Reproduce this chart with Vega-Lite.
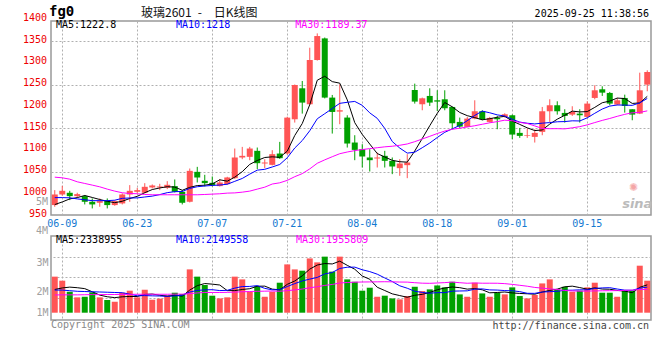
{
"$schema": "https://vega.github.io/schema/vega-lite/v6.json",
"padding": {"left": 22, "top": 4, "right": 8, "bottom": 4},
"background": "white",
"bounds": "flush",
"spacing": 21,
"config": {
  "view": {"stroke": "#999999", "strokeWidth": 1.5},
  "axis": {"labelFont": "DejaVu Sans Mono", "labelFontSize": 10, "ticks": false, "domain": false, "gridColor": "#b0b0b0", "gridDash": [2, 2], "gridWidth": 1, "labelBound": false, "labelFlush": false},
  "text": {"font": "DejaVu Sans Mono", "fontSize": 10}
},
"datasets": {
"yt": [{"t":950},{"t":1000},{"t":1050},{"t":1100},{"t":1150},{"t":1200},{"t":1250},{"t":1300},{"t":1350},{"t":1400}],
"k": [
{"d":"06-06","o":972.8,"h":1007.2,"l":968.9,"c":997.2,"v":3030000,"m5":974,"m10":990,"m30":1037,"vm5":1950000,"vm10":1900000,"vm30":1490000},
{"d":"06-09","o":997.2,"h":1017.1,"l":994.2,"c":1005.6,"v":2690000,"m5":980,"m10":990,"m30":1035.5,"vm5":2080000,"vm10":1900000,"vm30":1500000},
{"d":"06-10","o":1001.1,"h":1005.6,"l":984.2,"c":993.4,"v":1760000,"m5":987,"m10":989.5,"m30":1032.4,"vm5":2150000,"vm10":1850000,"vm30":1500000},
{"d":"06-11","o":993.4,"h":1001.1,"l":990.3,"c":998.0,"v":1290000,"m5":990,"m10":987,"m30":1026.3,"vm5":2100000,"vm10":1800000,"vm30":1500000},
{"d":"06-12","o":993.4,"h":995.7,"l":974.3,"c":980.4,"v":1340000,"m5":994.9,"m10":985,"m30":1022.5,"vm5":2022000,"vm10":1780000,"vm30":1510000},
{"d":"06-13","o":980.4,"h":988.1,"l":965.1,"c":974.3,"v":1710000,"m5":990.3,"m10":983,"m30":1018.7,"vm5":1758000,"vm10":1760000,"vm30":1520000},
{"d":"06-16","o":978.1,"h":988.1,"l":968.9,"c":981.9,"v":1290000,"m5":985.6,"m10":983,"m30":1014.8,"vm5":1478000,"vm10":1740000,"vm30":1520000},
{"d":"06-17","o":982.7,"h":988.1,"l":965.1,"c":972.8,"v":1070000,"m5":981.5,"m10":983,"m30":1009.5,"vm5":1340000,"vm10":1720000,"vm30":1530000},
{"d":"06-18","o":972.8,"h":983.5,"l":971.2,"c":981.9,"v":920000,"m5":978.3,"m10":984,"m30":1004.9,"vm5":1266000,"vm10":1700000,"vm30":1530000},
{"d":"06-19","o":976.6,"h":999.5,"l":974.3,"c":997.2,"v":1680000,"m5":981.6,"m10":988.3,"m30":1001.1,"vm5":1334000,"vm10":1678000,"vm30":1540000},
{"d":"06-20","o":997.2,"h":1018.7,"l":980.4,"c":1005.6,"v":1850000,"m5":987.9,"m10":989.1,"m30":999.5,"vm5":1362000,"vm10":1560000,"vm30":1540000},
{"d":"06-23","o":1003.4,"h":1012.5,"l":999.5,"c":1007.2,"v":1290000,"m5":992.9,"m10":989.3,"m30":998.8,"vm5":1362000,"vm10":1420000,"vm30":1550000},
{"d":"06-24","o":1001.1,"h":1023.2,"l":999.5,"c":1014.8,"v":1930000,"m5":1001.3,"m10":991.4,"m30":997.2,"vm5":1534000,"vm10":1437000,"vm30":1550000},
{"d":"06-25","o":1013.3,"h":1020.2,"l":1011.0,"c":1017.9,"v":1090000,"m5":1008.5,"m10":993.4,"m30":996.5,"vm5":1568000,"vm10":1417000,"vm30":1550000},
{"d":"06-26","o":1013.3,"h":1021.7,"l":1007.2,"c":1015.6,"v":1180000,"m5":1012.2,"m10":996.9,"m30":996.5,"vm5":1468000,"vm10":1401000,"vm30":1550000},
{"d":"06-27","o":1012.5,"h":1027.8,"l":1009.5,"c":1019.4,"v":1450000,"m5":1015.0,"m10":1001.4,"m30":996.5,"vm5":1388000,"vm10":1375000,"vm30":1550000},
{"d":"06-30","o":1016.4,"h":1031.7,"l":1001.8,"c":1003.4,"v":1680000,"m5":1014.2,"m10":1003.6,"m30":996.5,"vm5":1466000,"vm10":1414000,"vm30":1560000},
{"d":"07-01","o":1003.4,"h":1007.2,"l":974.3,"c":978.1,"v":1570000,"m5":1006.9,"m10":1004.1,"m30":996.5,"vm5":1394000,"vm10":1464000,"vm30":1560000},
{"d":"07-02","o":980.4,"h":1056.9,"l":978.9,"c":1051.5,"v":3640000,"m5":1013.6,"m10":1011.1,"m30":996.5,"vm5":1904000,"vm10":1736000,"vm30":1600000},
{"d":"07-03","o":1049.2,"h":1060.7,"l":1024.8,"c":1036.2,"v":3030000,"m5":1017.7,"m10":1015.0,"m30":996.5,"vm5":2274000,"vm10":1871000,"vm30":1660000},
{"d":"07-04","o":1028.6,"h":1042.4,"l":1015.6,"c":1023.2,"v":2330000,"m5":1018.5,"m10":1016.7,"m30":997.2,"vm5":2450000,"vm10":1919000,"vm30":1700000},
{"d":"07-07","o":1024.0,"h":1038.6,"l":1015.6,"c":1018.7,"v":1430000,"m5":1021.5,"m10":1017.9,"m30":998.0,"vm5":2400000,"vm10":1933000,"vm30":1700000},
{"d":"07-08","o":1016.4,"h":1032.4,"l":1015.6,"c":1024.8,"v":1200000,"m5":1030.9,"m10":1018.9,"m30":998.8,"vm5":2326000,"vm10":1860000,"vm30":1700000},
{"d":"07-09","o":1021.0,"h":1037.8,"l":1019.4,"c":1036.3,"v":1290000,"m5":1027.8,"m10":1020.7,"m30":1000.3,"vm5":1856000,"vm10":1880000,"vm30":1710000},
{"d":"07-10","o":1034.7,"h":1102.8,"l":1033.0,"c":1082.2,"v":3030000,"m5":1037.0,"m10":1027.4,"m30":1000.8,"vm5":1856000,"vm10":2065000,"vm30":1730000},
{"d":"07-11","o":1082.2,"h":1106.6,"l":1078.3,"c":1086.0,"v":2800000,"m5":1049.6,"m10":1034.0,"m30":1002.5,"vm5":1950000,"vm10":2200000,"vm30":1760000},
{"d":"07-14","o":1083.7,"h":1106.6,"l":1076.0,"c":1102.8,"v":1760000,"m5":1066.4,"m10":1044.0,"m30":1004.9,"vm5":2016000,"vm10":2208000,"vm30":1780000},
{"d":"07-15","o":1097.5,"h":1105.1,"l":1055.4,"c":1069.1,"v":2240000,"m5":1075.3,"m10":1053.1,"m30":1009.5,"vm5":2224000,"vm10":2275000,"vm30":1800000},
{"d":"07-16","o":1068.4,"h":1078.3,"l":1057.7,"c":1070.7,"v":1340000,"m5":1082.2,"m10":1055.0,"m30":1014.0,"vm5":2234000,"vm10":2045000,"vm30":1810000},
{"d":"07-17","o":1065.3,"h":1099.0,"l":1064.0,"c":1089.8,"v":1760000,"m5":1083.7,"m10":1060.4,"m30":1021.2,"vm5":1980000,"vm10":1918000,"vm30":1822000},
{"d":"07-18","o":1091.3,"h":1118.1,"l":1079.0,"c":1080.6,"v":2520000,"m5":1082.6,"m10":1066.1,"m30":1024.0,"vm5":1924000,"vm10":1937000,"vm30":1805000},
{"d":"07-21","o":1091.3,"h":1176.0,"l":1089.0,"c":1173.9,"v":4060000,"m5":1096.8,"m10":1081.6,"m30":1029.6,"vm5":2384000,"vm10":2200000,"vm30":1851000},
{"d":"07-22","o":1170.1,"h":1250.0,"l":1162.5,"c":1248.9,"v":3640000,"m5":1132.8,"m10":1104.0,"m30":1038.1,"vm5":2664000,"vm10":2444000,"vm30":1914000},
{"d":"07-23","o":1241.3,"h":1258.1,"l":1183.1,"c":1208.4,"v":3530000,"m5":1160.3,"m10":1121.2,"m30":1045.1,"vm5":3102000,"vm10":2668000,"vm30":1988000},
{"d":"07-24","o":1204.6,"h":1334.6,"l":1203.0,"c":1306.3,"v":4560000,"m5":1203.6,"m10":1143.7,"m30":1056.0,"vm5":3662000,"vm10":2821000,"vm30":2096000},
{"d":"07-25","o":1306.3,"h":1367.5,"l":1305.0,"c":1361.4,"v":4230000,"m5":1259.8,"m10":1171.2,"m30":1068.9,"vm5":4004000,"vm10":2964000,"vm30":2180000},
{"d":"07-28","o":1356.0,"h":1358.0,"l":1218.0,"c":1219.9,"v":4710000,"m5":1269.0,"m10":1182.9,"m30":1076.8,"vm5":4134000,"vm10":3259000,"vm30":2294000},
{"d":"07-29","o":1219.9,"h":1226.0,"l":1137.2,"c":1186.9,"v":3450000,"m5":1256.6,"m10":1194.7,"m30":1084.0,"vm5":4096000,"vm10":3380000,"vm30":2373000},
{"d":"07-30","o":1187.7,"h":1250.5,"l":1158.7,"c":1190.8,"v":4710000,"m5":1253.1,"m10":1206.7,"m30":1090.9,"vm5":4332000,"vm10":3717000,"vm30":2499000},
{"d":"07-31","o":1174.0,"h":1179.3,"l":1105.1,"c":1114.3,"v":2800000,"m5":1214.7,"m10":1209.1,"m30":1094.8,"vm5":3980000,"vm10":3821000,"vm30":2537000},
{"d":"08-01","o":1116.6,"h":1133.4,"l":1076.0,"c":1099.7,"v":2600000,"m5":1162.3,"m10":1211.1,"m30":1098.0,"vm5":3654000,"vm10":3829000,"vm30":2562000},
{"d":"08-04","o":1101.3,"h":1112.8,"l":1059.2,"c":1084.5,"v":1850000,"m5":1135.2,"m10":1202.1,"m30":1100.5,"vm5":3082000,"vm10":3608000,"vm30":2580000},
{"d":"08-05","o":1082.2,"h":1101.3,"l":1050.0,"c":1076.0,"v":2100000,"m5":1113.1,"m10":1184.8,"m30":1102.6,"vm5":2812000,"vm10":3454000,"vm30":2586000},
{"d":"08-06","o":1079.9,"h":1093.6,"l":1059.2,"c":1082.2,"v":1340000,"m5":1091.3,"m10":1172.2,"m30":1104.7,"vm5":2138000,"vm10":3235000,"vm30":2594000},
{"d":"08-07","o":1086.0,"h":1097.5,"l":1059.2,"c":1074.5,"v":1430000,"m5":1083.4,"m10":1149.0,"m30":1106.7,"vm5":1864000,"vm10":2922000,"vm30":2603000},
{"d":"08-08","o":1074.5,"h":1082.2,"l":1043.9,"c":1061.5,"v":1200000,"m5":1075.7,"m10":1119.0,"m30":1108.1,"vm5":1584000,"vm10":2619000,"vm30":2594000},
{"d":"08-11","o":1057.7,"h":1078.3,"l":1040.1,"c":1068.4,"v":1120000,"m5":1072.5,"m10":1103.9,"m30":1110.3,"vm5":1438000,"vm10":2260000,"vm30":2576000},
{"d":"08-12","o":1064.6,"h":1089.8,"l":1034.7,"c":1070.7,"v":1400000,"m5":1071.5,"m10":1092.3,"m30":1113.3,"vm5":1298000,"vm10":2055000,"vm30":2570000},
{"d":"08-13","o":1237.4,"h":1252.0,"l":1206.1,"c":1210.7,"v":2180000,"m5":1097.2,"m10":1094.3,"m30":1118.6,"vm5":1466000,"vm10":1802000,"vm30":2521000},
{"d":"08-14","o":1204.6,"h":1219.9,"l":1190.8,"c":1218.3,"v":1820000,"m5":1125.9,"m10":1104.7,"m30":1124.7,"vm5":1544000,"vm10":1704000,"vm30":2481000},
{"d":"08-15","o":1223.7,"h":1241.3,"l":1200.7,"c":1208.4,"v":1960000,"m5":1155.3,"m10":1115.5,"m30":1130.9,"vm5":1696000,"vm10":1640000,"vm30":2469000},
{"d":"08-18","o":1213.7,"h":1236.7,"l":1189.3,"c":1210.7,"v":2290000,"m5":1183.8,"m10":1128.1,"m30":1137.3,"vm5":1930000,"vm10":1684000,"vm30":2497000},
{"d":"08-19","o":1216.0,"h":1236.7,"l":1190.8,"c":1195.4,"v":2130000,"m5":1208.7,"m10":1140.1,"m30":1143.0,"vm5":2076000,"vm10":1687000,"vm30":2528000},
{"d":"08-20","o":1198.4,"h":1199.0,"l":1147.2,"c":1160.9,"v":2600000,"m5":1198.7,"m10":1148.0,"m30":1147.1,"vm5":2160000,"vm10":1813000,"vm30":2572000},
{"d":"08-21","o":1164.0,"h":1174.0,"l":1149.5,"c":1153.3,"v":1540000,"m5":1185.7,"m10":1155.8,"m30":1149.5,"vm5":2104000,"vm10":1824000,"vm30":2522000},
{"d":"08-22","o":1152.5,"h":1175.5,"l":1152.0,"c":1171.6,"v":1340000,"m5":1178.4,"m10":1166.8,"m30":1152.4,"vm5":1980000,"vm10":1838000,"vm30":2474000},
{"d":"08-25","o":1171.7,"h":1213.7,"l":1170.1,"c":1188.5,"v":2520000,"m5":1173.9,"m10":1178.9,"m30":1155.2,"vm5":2026000,"vm10":1978000,"vm30":2499000},
{"d":"08-26","o":1188.5,"h":1190.8,"l":1167.8,"c":1170.1,"v":1620000,"m5":1168.9,"m10":1188.8,"m30":1158.6,"vm5":1924000,"vm10":2000000,"vm30":2478000},
{"d":"08-27","o":1164.0,"h":1175.5,"l":1162.5,"c":1173.2,"v":1340000,"m5":1171.3,"m10":1185.0,"m30":1162.0,"vm5":1672000,"vm10":1916000,"vm30":2478000},
{"d":"08-28","o":1173.2,"h":1177.8,"l":1147.2,"c":1170.1,"v":1680000,"m5":1174.7,"m10":1180.2,"m30":1164.7,"vm5":1700000,"vm10":1902000,"vm30":2476000},
{"d":"08-29","o":1175.5,"h":1183.9,"l":1174.0,"c":1181.6,"v":1540000,"m5":1176.7,"m10":1177.5,"m30":1168.0,"vm5":1740000,"vm10":1860000,"vm30":2443000},
{"d":"09-01","o":1179.3,"h":1180.8,"l":1124.2,"c":1134.9,"v":2130000,"m5":1166.0,"m10":1170.0,"m30":1166.7,"vm5":1662000,"vm10":1844000,"vm30":2379000},
{"d":"09-02","o":1138.8,"h":1150.2,"l":1127.3,"c":1131.9,"v":1400000,"m5":1158.3,"m10":1163.6,"m30":1162.8,"vm5":1618000,"vm10":1771000,"vm30":2304000},
{"d":"09-03","o":1131.9,"h":1148.7,"l":1127.3,"c":1133.4,"v":1200000,"m5":1150.4,"m10":1160.9,"m30":1160.3,"vm5":1590000,"vm10":1631000,"vm30":2226000},
{"d":"09-04","o":1129.6,"h":1147.2,"l":1116.6,"c":1138.8,"v":1490000,"m5":1144.1,"m10":1159.4,"m30":1154.8,"vm5":1552000,"vm10":1626000,"vm30":2124000},
{"d":"09-05","o":1141.1,"h":1198.4,"l":1133.4,"c":1188.5,"v":2460000,"m5":1145.5,"m10":1161.1,"m30":1149.0,"vm5":1736000,"vm10":1738000,"vm30":2065000},
{"d":"09-08","o":1188.5,"h":1216.0,"l":1164.0,"c":1202.3,"v":2800000,"m5":1159.0,"m10":1162.5,"m30":1148.4,"vm5":1870000,"vm10":1766000,"vm30":2001000},
{"d":"09-09","o":1202.3,"h":1211.4,"l":1180.8,"c":1188.5,"v":1960000,"m5":1170.3,"m10":1164.3,"m30":1148.5,"vm5":1982000,"vm10":1800000,"vm30":1952000},
{"d":"09-10","o":1184.7,"h":1193.1,"l":1162.5,"c":1177.8,"v":2180000,"m5":1179.2,"m10":1164.8,"m30":1148.0,"vm5":2178000,"vm10":1884000,"vm30":1867000},
{"d":"09-11","o":1180.8,"h":1200.0,"l":1177.8,"c":1187.0,"v":1760000,"m5":1188.8,"m10":1166.5,"m30":1150.4,"vm5":2232000,"vm10":1892000,"vm30":1833000},
{"d":"09-12","o":1183.1,"h":1193.1,"l":1162.5,"c":1179.3,"v":1850000,"m5":1187.0,"m10":1166.2,"m30":1153.1,"vm5":2110000,"vm10":1923000,"vm30":1808000},
{"d":"09-15","o":1175.5,"h":1211.4,"l":1173.2,"c":1206.1,"v":2130000,"m5":1187.7,"m10":1173.4,"m30":1157.2,"vm5":1976000,"vm10":1923000,"vm30":1817000},
{"d":"09-16","o":1219.1,"h":1248.2,"l":1216.0,"c":1236.7,"v":2520000,"m5":1197.4,"m10":1183.8,"m30":1162.5,"vm5":2088000,"vm10":2035000,"vm30":1831000},
{"d":"09-17","o":1239.0,"h":1245.9,"l":1223.7,"c":1231.3,"v":1680000,"m5":1208.1,"m10":1193.6,"m30":1167.5,"vm5":1988000,"vm10":2083000,"vm30":1842000},
{"d":"09-18","o":1230.6,"h":1232.9,"l":1202.3,"c":1206.1,"v":1680000,"m5":1211.9,"m10":1200.4,"m30":1171.9,"vm5":1972000,"vm10":2102000,"vm30":1851000},
{"d":"09-19","o":1203.8,"h":1219.1,"l":1202.3,"c":1213.7,"v":1340000,"m5":1218.8,"m10":1202.9,"m30":1176.9,"vm5":1870000,"vm10":1990000,"vm30":1855000},
{"d":"09-22","o":1219.1,"h":1226.7,"l":1185.4,"c":1200.7,"v":1850000,"m5":1217.7,"m10":1202.7,"m30":1181.4,"vm5":1814000,"vm10":1895000,"vm30":1880000},
{"d":"09-23","o":1193.1,"h":1193.1,"l":1167.8,"c":1180.8,"v":1850000,"m5":1206.5,"m10":1202.0,"m30":1185.0,"vm5":1680000,"vm10":1884000,"vm30":1895000},
{"d":"09-24","o":1183.1,"h":1277.2,"l":1182.0,"c":1236.7,"v":3950000,"m5":1207.6,"m10":1207.8,"m30":1185.9,"vm5":2134000,"vm10":2061000,"vm30":1954000},
{"d":"09-25","o":1249.7,"h":1282.6,"l":1234.4,"c":1278.8,"v":2690000,"m5":1222.8,"m10":1218.0,"m30":1189.4,"vm5":2338955,"vm10":2149558,"vm30":1955809}
]},
"vconcat": [
{
  "width": 600, "height": 194,
  "layer": [
    {"data": {"name": "k"}, "mark": {"type": "rule", "strokeWidth": 1},
     "encoding": {
       "x": {"field": "d", "type": "ordinal", "scale": {"type": "band", "paddingInner": 0, "paddingOuter": 0},
             "axis": {"values": ["06-09","06-23","07-07","07-21","08-04","08-18","09-01","09-15"], "bandPosition": 0.5, "grid": true, "labelAngle": 0, "labelColor": "#1479d1", "labelPadding": 3, "title": null}},
       "y": {"field": "l", "type": "quantitative", "scale": {"domain": [950, 1396], "nice": false, "zero": false},
             "axis": {"values": [950,1000,1050,1100,1150,1200,1250,1300,1350], "labels": false, "grid": true, "title": null}},
       "y2": {"field": "h"},
       "color": {"condition": {"test": "datum.c >= datum.o", "value": "#ff5555"}, "value": "#00a000"}
     }},
    {"data": {"name": "k"}, "mark": {"type": "bar", "size": 6},
     "encoding": {
       "x": {"field": "d", "type": "ordinal"},
       "y": {"field": "o", "type": "quantitative"},
       "y2": {"field": "c"},
       "color": {"condition": {"test": "datum.c >= datum.o", "value": "#ff5555"}, "value": "#00a000"}
     }},
    {"data": {"name": "k"}, "mark": {"type": "line", "color": "#000000", "strokeWidth": 1},
     "encoding": {"x": {"field": "d", "type": "ordinal"}, "y": {"field": "m5", "type": "quantitative"}}},
    {"data": {"name": "k"}, "mark": {"type": "line", "color": "#0000ff", "strokeWidth": 1},
     "encoding": {"x": {"field": "d", "type": "ordinal"}, "y": {"field": "m10", "type": "quantitative"}}},
    {"data": {"name": "k"}, "mark": {"type": "line", "color": "#ff00ff", "strokeWidth": 1},
     "encoding": {"x": {"field": "d", "type": "ordinal"}, "y": {"field": "m30", "type": "quantitative"}}},
    {"data": {"name": "yt"}, "mark": {"type": "text", "align": "right", "baseline": "middle", "color": "#ee0000", "dx": -7.75, "dy": -1.5, "clip": false},
     "encoding": {"x": {"datum": "06-06", "type": "ordinal"}, "y": {"field": "t", "type": "quantitative"}, "text": {"field": "t", "type": "quantitative", "format": "d"}}},
    {"data": {"values": [{}]}, "mark": {"type": "text", "text": "MA5:1222.8", "align": "left", "baseline": "middle", "color": "#000000", "dx": 1.25, "clip": false},
     "encoding": {"x": {"datum": "06-06", "type": "ordinal"}, "y": {"datum": 1386.3, "type": "quantitative"}}},
    {"data": {"values": [{}]}, "mark": {"type": "text", "text": "MA10:1218", "align": "left", "baseline": "middle", "color": "#0000ff", "dx": 1.25, "clip": false},
     "encoding": {"x": {"datum": "06-30", "type": "ordinal"}, "y": {"datum": 1386.3, "type": "quantitative"}}},
    {"data": {"values": [{}]}, "mark": {"type": "text", "text": "MA30:1189.37", "align": "left", "baseline": "middle", "color": "#ff00ff", "dx": 0.5, "clip": false},
     "encoding": {"x": {"datum": "07-22", "type": "ordinal"}, "y": {"datum": 1386.3, "type": "quantitative"}}},
    {"data": {"values": [{}]}, "mark": {"type": "text", "text": "fg0", "align": "left", "baseline": "middle", "color": "#000000", "fontSize": 14, "fontWeight": "bold", "dx": -5.75, "clip": false},
     "encoding": {"x": {"datum": "06-06", "type": "ordinal"}, "y": {"datum": 1416.2, "type": "quantitative"}}},
    {"data": {"values": [{}]}, "mark": {"type": "text", "text": "玻璃2601\u2002-\u3000日K线图", "align": "left", "baseline": "middle", "color": "#111111", "font": "Noto Sans CJK SC", "fontSize": 12, "dx": -3.75, "clip": false},
     "encoding": {"x": {"datum": "06-24", "type": "ordinal"}, "y": {"datum": 1414.4, "type": "quantitative"}}},
    {"data": {"values": [{}]}, "mark": {"type": "text", "text": "2025-09-25 11:38:56", "align": "right", "baseline": "middle", "color": "#000000", "dx": 1.75, "clip": false},
     "encoding": {"x": {"datum": "09-25", "type": "ordinal"}, "y": {"datum": 1412.3, "type": "quantitative"}}},
    {"data": {"values": [{}]}, "mark": {"type": "text", "text": "5M", "align": "right", "baseline": "middle", "color": "#a0a0a0", "dx": -6.75, "clip": false},
     "encoding": {"x": {"datum": "06-06", "type": "ordinal"}, "y": {"datum": 980.3, "type": "quantitative"}}},
    {"data": {"values": [{}]}, "mark": {"type": "text", "text": "sina", "align": "center", "baseline": "middle", "color": "#bbbbbb", "font": "DejaVu Sans", "fontSize": 13, "fontWeight": "bold", "fontStyle": "italic", "dx": 5, "clip": false},
     "encoding": {"x": {"datum": "09-23", "type": "ordinal"}, "y": {"datum": 975, "type": "quantitative"}}},
    {"data": {"values": [{}]}, "mark": {"type": "text", "text": "✺", "align": "center", "baseline": "middle", "color": "#f4a6a6", "font": "DejaVu Sans", "fontSize": 11, "dx": 1, "clip": false},
     "encoding": {"x": {"datum": "09-23", "type": "ordinal"}, "y": {"datum": 1012, "type": "quantitative"}}}
  ]
},
{
  "width": 600, "height": 84,
  "layer": [
    {"layer": [
      {"data": {"name": "k"}, "mark": {"type": "bar", "size": 6},
       "encoding": {
         "x": {"field": "d", "type": "ordinal", "scale": {"type": "band", "paddingInner": 0, "paddingOuter": 0},
               "axis": {"values": ["06-09","06-23","07-07","07-21","08-04","08-18","09-01","09-15"], "bandPosition": 0.5, "grid": true, "labels": false, "title": null}},
         "y": {"field": "v", "type": "quantitative", "scale": {"domain": [-613000, 6445000], "nice": false, "zero": false},
               "axis": {"values": [0, 1740000, 4260000], "grid": false, "labelColor": "#a0a0a0", "labelPadding": 3,
                        "labelExpr": "datum.value < 1000000 ? '1M' : datum.value < 3000000 ? '2M' : '3M'", "title": null}},
         "color": {"condition": {"test": "datum.c >= datum.o", "value": "#ff5555"}, "value": "#00a000"}
       }},
      {"data": {"name": "k"}, "mark": {"type": "line", "color": "#000000", "strokeWidth": 1},
       "encoding": {"x": {"field": "d", "type": "ordinal"}, "y": {"field": "vm5", "type": "quantitative"}}},
      {"data": {"name": "k"}, "mark": {"type": "line", "color": "#0000ff", "strokeWidth": 1},
       "encoding": {"x": {"field": "d", "type": "ordinal"}, "y": {"field": "vm10", "type": "quantitative"}}},
      {"data": {"name": "k"}, "mark": {"type": "line", "color": "#ff00ff", "strokeWidth": 1},
       "encoding": {"x": {"field": "d", "type": "ordinal"}, "y": {"field": "vm30", "type": "quantitative"}}},
      {"data": {"values": [{}]}, "mark": {"type": "text", "text": "4M", "align": "right", "baseline": "middle", "color": "#a0a0a0", "dx": -6.75, "clip": false},
       "encoding": {"x": {"datum": "06-06", "type": "ordinal"}, "y": {"datum": 6866000, "type": "quantitative"}}},
      {"data": {"values": [{}]}, "mark": {"type": "text", "text": "MA5:2338955", "align": "left", "baseline": "middle", "color": "#000000", "dx": 1.25, "clip": false},
       "encoding": {"x": {"datum": "06-06", "type": "ordinal"}, "y": {"datum": 6090000, "type": "quantitative"}}},
      {"data": {"values": [{}]}, "mark": {"type": "text", "text": "MA10:2149558", "align": "left", "baseline": "middle", "color": "#0000ff", "dx": 1.25, "clip": false},
       "encoding": {"x": {"datum": "06-30", "type": "ordinal"}, "y": {"datum": 6090000, "type": "quantitative"}}},
      {"data": {"values": [{}]}, "mark": {"type": "text", "text": "MA30:1955809", "align": "left", "baseline": "middle", "color": "#ff00ff", "dx": 1.25, "clip": false},
       "encoding": {"x": {"datum": "07-22", "type": "ordinal"}, "y": {"datum": 6090000, "type": "quantitative"}}},
      {"data": {"values": [{}]}, "mark": {"type": "text", "text": "Copyright 2025 SINA.COM", "align": "left", "baseline": "middle", "color": "#888888", "dx": -3.75, "clip": false},
       "encoding": {"x": {"datum": "06-06", "type": "ordinal"}, "y": {"datum": -1034000, "type": "quantitative"}}},
      {"data": {"values": [{}]}, "mark": {"type": "text", "text": "http://finance.sina.com.cn", "align": "right", "baseline": "middle", "color": "#444444", "dx": 1.75, "clip": false},
       "encoding": {"x": {"datum": "09-25", "type": "ordinal"}, "y": {"datum": -1109000, "type": "quantitative"}}}
    ]},
    {"data": {"name": "k"}, "mark": {"type": "line", "opacity": 0},
     "encoding": {"x": {"field": "d", "type": "ordinal"},
                  "y": {"field": "vm30", "type": "quantitative", "scale": {"domain": [-613000, 6445000], "nice": false, "zero": false},
                        "axis": {"orient": "right", "values": [1260000, 2970000, 4680000], "grid": true, "labels": false, "title": null}}}}
  ],
  "resolve": {"scale": {"y": "independent"}}
}
]
}
